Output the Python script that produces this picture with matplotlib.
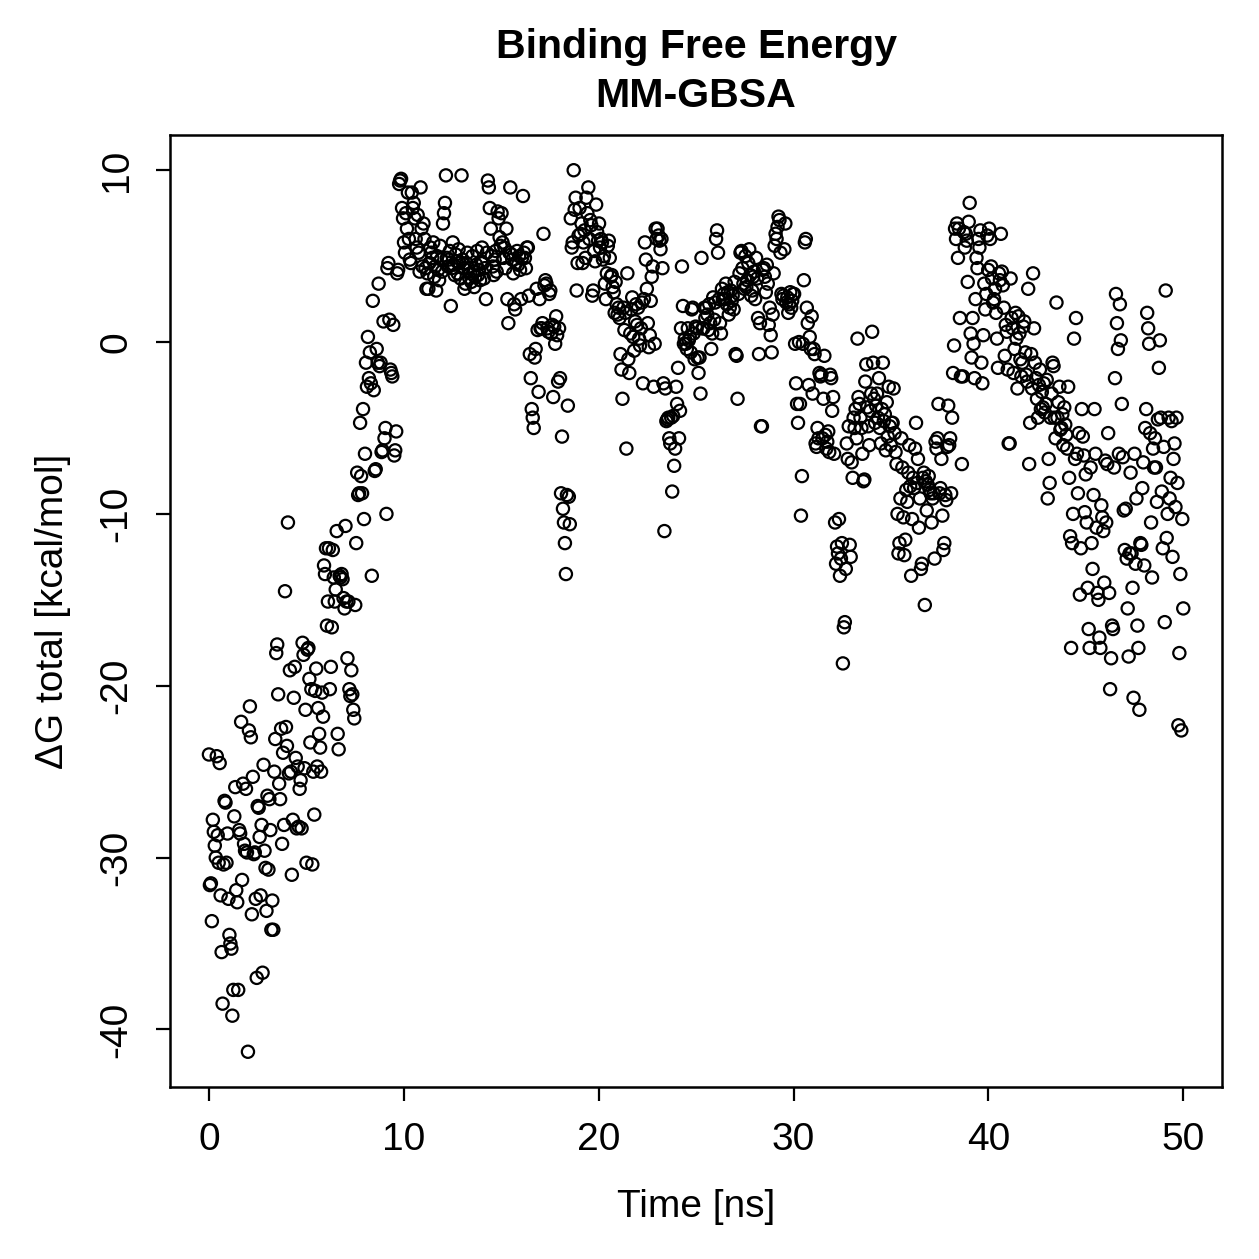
import numpy as np
import matplotlib
matplotlib.use("Agg")
import matplotlib.pyplot as plt

plt.rcParams['font.family'] = ['Liberation Sans', 'DejaVu Sans']
plt.rcParams['axes.unicode_minus'] = False

# Delta G total [kcal/mol], 20 frames per ns
dg_00_10 = [
    -24.0, -31.6, -31.5, -33.7, -27.8, -28.5, -29.3, -30.0, -24.1, -28.7, -30.3, -24.5, -32.2, -35.5, -38.5, -30.4, -26.7, -26.8, -30.3, -28.6,
    -32.4, -34.5, -35.0, -35.3, -39.2, -37.7, -27.6, -25.9, -31.9, -32.6, -37.7, -28.4, -28.6, -22.1, -31.3, -25.7, -29.2, -29.6, -26.0, -29.7,
    -41.3, -22.6, -21.2, -23.0, -33.3, -25.3, -29.8, -29.7, -32.4, -37.0, -27.0, -27.1, -28.8, -32.2, -28.1, -36.7, -24.6, -29.6, -30.6, -33.1,
    -26.4, -30.7, -26.6, -28.4, -34.2, -32.5, -34.2, -25.0, -23.1, -18.1, -17.6, -20.5, -25.7, -26.6, -22.5, -29.2, -23.9, -28.1, -14.5, -22.4,
    -23.5, -10.5, -25.1, -19.1, -25.0, -31.0, -27.8, -20.7, -18.9, -24.2, -28.3, -24.7, -28.2, -26.0, -25.5, -28.3, -17.5, -18.2, -24.8, -21.4,
    -30.3, -17.9, -17.8, -19.6, -23.3, -20.2, -30.4, -25.0, -27.5, -20.3, -19.0, -24.7, -21.3, -22.8, -23.6, -25.0, -20.4, -21.8, -13.0, -13.5,
    -12.0, -16.5, -15.1, -12.0, -20.2, -18.9, -16.6, -12.1, -13.7, -15.1, -14.4, -11.0, -22.8, -23.7, -13.6, -13.7, -13.5, -13.8, -14.9, -15.5,
    -10.7, -15.1, -18.4, -15.1, -20.2, -20.6, -19.1, -20.5, -21.4, -21.9, -15.3, -11.7, -7.6, -8.9, -8.8, -4.7, -7.8, -8.8, -3.9, -10.3,
    -6.5, -1.2, -2.6, 0.3, -2.1, -0.6, -2.4, -13.6, 2.4, -2.8, -7.5, -7.4, -0.4, -1.2, 3.4, -1.4, -1.2, -6.4, -6.3, 1.2,
    -5.6, -5.0, -10.0, 4.3, 4.6, 1.3, -1.6, -1.8, -2.0, 1.0, -6.6, -6.3, -5.2, 4.0, 4.2, 9.2, 9.4, 9.5, 7.8, 7.2,
]
dg_10_20 = [
    5.8, 5.2, 7.5, 6.6, 8.7, 6.0, 4.8, 4.6, 8.7, 7.8, 8.1, 7.2, 6.0, 5.5, 7.4, 5.2, 4.1, 9.0, 6.6, 4.4,
    6.9, 6.0, 4.3, 3.1, 4.0, 3.1, 4.6, 5.5, 5.2, 4.9, 5.8, 3.8, 4.4, 3.0, 5.0, 4.2, 3.6, 5.6, 4.8, 4.1,
    6.9, 7.5, 8.1, 9.7, 4.9, 4.4, 4.8, 5.3, 2.1, 4.3, 5.8, 4.5, 3.9, 5.1, 4.7, 4.0, 5.4, 4.6, 3.7, 9.7,
    4.8, 4.3, 3.1, 3.4, 4.6, 5.2, 4.3, 3.7, 4.0, 3.5, 5.0, 4.1, 3.2, 3.8, 4.5, 5.3, 3.9, 4.2, 3.6, 4.7,
    5.5, 4.6, 3.7, 4.3, 2.5, 5.2, 9.4, 9.0, 7.8, 6.6, 5.0, 4.4, 3.9, 4.8, 5.3, 4.1, 7.6, 7.2, 6.1, 5.6,
    7.5, 5.8, 4.9, 5.5, 4.3, 6.6, 2.5, 1.1, 5.2, 9.0, 5.1, 4.8, 4.0, 2.2, 1.9, 4.6, 5.3, 4.5, 5.0, 4.2,
    2.5, 4.9, 8.5, 5.2, 4.9, 4.3, 5.5, 5.5, 2.7, -0.7, -2.1, -3.9, -4.4, -5.0, -0.9, -0.4, 3.1, 0.7, -2.9, 2.5,
    0.8, 0.8, 1.1, 6.3, 3.3, 3.6, 3.4, 0.8, 0.6, 2.8, 3.0, 0.5, 1.0, -3.2, 0.9, -0.1, 1.5, 0.4, -2.3, 0.8,
    -2.1, -8.8, -5.5, -9.7, -10.5, -11.7, -13.5, -8.9, -3.7, -9.0, -10.6, 7.2, 5.5, 5.8, 10.0, 7.7, 8.4, 3.0, 4.6, 6.2,
    7.8, 6.3, 6.9, 4.6, 5.8, 6.5, 4.9, 8.4, 7.5, 9.0, 6.0, 7.1, 6.8, 2.7, 3.0, 5.3, 4.7, 8.0, 6.4, 5.9,
]
dg_20_30 = [
    6.9, 5.5, 6.0, 5.8, 4.8, 5.0, 3.4, 2.5, 4.0, 5.6, 5.9, 4.9, 3.8, 3.9, 3.2, 2.9, 1.7, 3.5, 2.2, 1.6,
    2.0, 1.4, -0.7, -1.6, -3.3, 2.0, 0.7, 1.7, -6.2, 4.0, -1.0, -1.8, 0.5, 1.9, 2.6, 0.3, -0.5, 1.2, 2.2, 1.0,
    2.0, 0.2, -0.2, 0.8, 2.3, -2.4, 2.5, 5.8, 4.8, 3.1, 1.1, -0.3, 0.4, 2.4, 3.8, 4.4, -2.6, -0.1, 6.6, 6.0,
    6.6, 6.2, 5.9, 5.4, 6.0, 4.3, -2.4, -11.0, -2.7, -4.6, -4.5, -4.4, -5.6, -5.9, -4.4, -8.7, -4.3, -7.2, -6.2, -2.6,
    -3.6, -1.5, -5.6, -4.0, 0.8, 4.4, 2.1, -0.1, 0.2, -0.1, -0.4, 0.8, 0.1, 0.3, -0.6, 1.9, 2.0, 0.5, -1.0, 0.9,
    0.8, -0.9, -1.8, -0.9, -3.0, 4.9, 0.8, 0.8, 2.0, 1.4, 2.0, 1.6, 0.7, 2.2, 1.1, -0.4, 0.5, 2.6, 1.3, 2.3,
    6.0, 6.5, 5.2, 2.5, 1.1, 0.5, 3.1, 2.5, 2.8, 2.5, 3.4, 2.2, 2.9, 1.6, 2.0, 3.0, 2.4, 2.7, 1.9, 3.5,
    -0.7, -0.8, -3.3, 2.8, 4.0, 5.2, 5.3, 4.3, 3.4, 3.1, 5.0, 3.2, 3.6, 4.6, 5.4, 3.9, 2.7, 3.0, 3.8, 4.1,
    2.5, 4.9, 3.7, 1.4, -0.7, 1.1, -4.9, -4.9, 4.2, 4.3, 3.8, 2.9, 4.5, 3.4, 1.0, 2.0, 0.4, -0.6, 1.6, 4.0,
    5.6, 6.3, 6.0, 6.7, 7.3, 7.1, 5.2, 2.8, 2.5, 2.7, 5.4, 6.9, 2.3, 2.6, 1.7, 2.2, 2.9, 2.0, 2.4, 2.8,
]
dg_30_40 = [
    2.8, -0.1, -2.4, -3.6, -4.7, 0.0, -3.6, -10.1, -7.8, -0.1, 3.6, 5.8, 6.0, 2.0, 1.1, -2.5, 0.3, -0.4, 1.5, -3.0,
    -0.4, -0.7, -5.9, -6.1, -5.0, -5.6, -1.8, -2.0, -1.9, -5.6, -3.3, -0.8, -5.4, -6.2, -5.8, -5.2, -6.4, -1.9, -2.1, -4.0,
    -3.2, -6.5, -10.5, -12.9, -11.9, -12.3, -10.3, -13.6, -12.6, -11.7, -18.7, -16.6, -16.3, -13.2, -5.9, -6.8, -4.9, -11.8, -12.5, -7.0,
    -7.9, -4.4, -5.0, -3.9, -5.6, 0.2, -3.2, -3.6, -4.4, -5.0, -6.5, -8.1, -8.0, -2.3, -1.3, -3.8, -4.9, -6.0, -4.0, -3.0,
    0.6, -1.2, -3.3, -4.7, -3.7, -3.0, -4.4, -2.1, -5.0, -5.9, -3.9, -1.2, -4.6, -4.2, -6.3, -3.5, -5.5, -2.6, -4.9, -6.0,
    -4.7, -4.7, -2.7, -5.3, -6.4, -7.1, -10.0, -12.3, -11.7, -9.1, -5.6, -7.3, -10.2, -12.4, -11.5, -8.6, -9.3, -7.6, -6.0, -8.4,
    -13.6, -10.3, -7.9, -8.5, -6.2, -4.7, -8.2, -6.8, -10.8, -9.1, -13.2, -12.9, -7.9, -7.6, -15.3, -8.1, -9.8, -8.3, -7.8, -8.6,
    -8.8, -10.5, -9.1, -8.8, -12.6, -5.8, -6.2, -5.6, -3.6, -8.8, -8.5, -6.8, -10.1, -12.1, -11.7, -8.9, -9.2, -6.1, -3.7, -6.0,
    -5.6, -8.8, -4.4, -1.8, -0.2, 6.6, 6.0, 6.9, 4.9, 6.6, 1.4, -2.0, -7.1, -2.0, 6.4, 5.5, 6.3, 5.9, 3.5, 7.0,
    8.1, 0.5, -0.9, 1.4, -0.1, -2.1, 2.5, 4.9, 4.3, 6.0, 5.5, 6.5, -1.2, -2.4, 0.4, 3.4, 1.9, 2.8, 6.2, 4.2,
]
dg_40_50 = [
    6.6, 6.0, 4.4, 3.7, 2.3, 2.5, 3.1, 1.7, 0.2, -1.5, 4.0, 3.6, 6.3, 4.1, 3.3, 2.0, -0.8, 1.0, 0.6, -1.6,
    -5.9, -5.9, 3.7, 1.4, 0.8, -1.8, -0.4, 1.7, 0.2, -2.7, 1.5, 0.5, -1.0, -2.0, -1.2, 0.9, 1.2, -0.6, -1.9, -2.3,
    3.1, -7.1, -4.7, -0.7, -2.7, 4.0, 0.8, -1.2, -2.1, -3.3, -4.4, -2.5, -1.6, -3.9, -2.9, -3.8, -2.4, -4.1, -3.6, -2.2,
    -9.1, -6.8, -8.2, -4.4, -3.0, -1.2, -1.4, -4.4, -5.6, 2.3, -4.4, -3.5, -2.6, -5.1, -5.0, -4.2, -6.0, -3.8, -4.8, -5.4,
    -6.2, -2.6, -7.9, -11.3, -17.8, -11.7, -10.0, 0.2, -6.8, 1.4, -6.5, -8.8, -5.3, -14.7, -12.0, -3.9, -5.5, -6.6, -9.9, -7.7,
    -10.5, -14.3, -16.7, -17.8, -7.3, -11.7, -13.2, -8.9, -3.9, -6.5, -10.8, -14.6, -15.0, -17.2, -17.8, -9.5, -10.2, -11.0, -14.0, -6.9,
    -10.5, -7.1, -5.3, -14.6, -20.2, -18.4, -16.5, -16.7, -7.3, -2.1, 2.8, 1.1, -0.4, -6.5, 2.2, 0.1, -3.6, -6.7, -9.8, -12.1,
    -9.7, -12.6, -15.5, -18.3, -12.3, -7.6, -12.3, -14.3, -20.7, -6.5, -12.9, -9.1, -16.5, -17.8, -21.4, -11.7, -11.8, -8.5, -7.0, -13.0,
    -5.0, -3.9, 1.7, 0.8, -0.1, -5.3, -10.5, -13.7, -6.2, -7.3, -5.6, -7.3, -9.3, -4.5, -1.5, 0.1, -4.4, -8.7, -12.0, -6.1,
    -16.3, 3.0, -11.4, -10.0, -4.4, -9.1, -7.9, -4.6, -12.5, -6.8, -5.9, -9.6, -4.4, -8.2, -22.3, -18.1, -13.5, -22.6, -10.3, -15.5,
]

dg = np.array(dg_00_10 + dg_10_20 + dg_20_30 + dg_30_40 + dg_40_50)
time = np.linspace(0, 50, len(dg))

fig = plt.figure(figsize=(6.295, 6.295), dpi=200)
ax = fig.add_axes([0.135, 0.1366, 0.8358, 0.7562])

ax.scatter(time, dg, s=4.4 ** 2, facecolors='none', edgecolors='black', linewidths=0.8)

# R style: 4 % padding on both axes
xr = time.max() - time.min()
yr = dg.max() - dg.min()
ax.set_xlim(time.min() - 0.04 * xr, time.max() + 0.04 * xr)
ax.set_ylim(dg.min() - 0.04 * yr, dg.max() + 0.04 * yr)

ax.set_xticks([0, 10, 20, 30, 40, 50])
ax.set_yticks([-40, -30, -20, -10, 0, 10])
ax.tick_params(direction='out', length=5.2, width=0.8, labelsize=14, pad=7.5)
for lab in ax.get_yticklabels():
    lab.set_rotation(90)
    lab.set_va('center')
for sp in ax.spines.values():
    sp.set_linewidth(0.9)

ax.set_xlabel('Time [ns]', fontsize=14, labelpad=11)
ax.set_ylabel('ΔG total [kcal/mol]', fontsize=14, labelpad=10)
ax.set_title('Binding Free Energy\nMM-GBSA', fontsize=14.8, fontweight='bold', pad=10, linespacing=1.37)

fig.savefig('out.png', dpi=200)
